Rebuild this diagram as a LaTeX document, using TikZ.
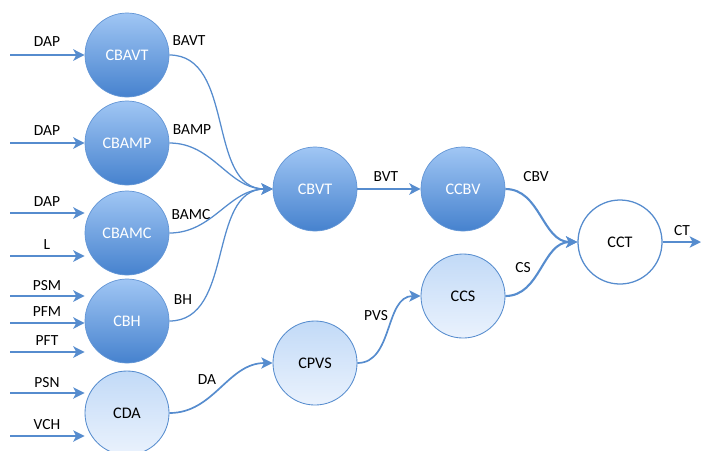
\documentclass[tikz,border=0pt]{standalone}
\usepackage{fontspec}
\setmainfont{Carlito}
\usetikzlibrary{arrows.meta}

\definecolor{lineblue}{RGB}{86,140,206}
\definecolor{darktop}{RGB}{160,198,244}
\definecolor{darkbot}{RGB}{70,130,206}
\definecolor{lighttop}{RGB}{194,218,247}
\definecolor{lightbot}{RGB}{234,242,253}

\tikzset{
  unit/.style={circle, minimum size=2.1cm, inner sep=0pt,
    font=\fontsize{11.5}{13}\selectfont},
  dark/.style={unit, draw=darkbot!85!white, line width=0.5pt,
    top color=darktop, bottom color=darkbot, text=white},
  light/.style={unit, draw=lineblue, line width=0.6pt,
    top color=lighttop, bottom color=lightbot},
  plain/.style={unit, draw=lineblue, line width=0.9pt, fill=white},
  lbl/.style={font=\fontsize{11}{13}\selectfont},
  flow/.style={draw=lineblue, line width=1.5pt,
    -{Stealth[length=8pt,width=8pt,inset=2pt]}},
  thin/.style={flow, line width=0.9pt},
  mid/.style={flow, line width=1.2pt}
}

\begin{document}
\begin{tikzpicture}[x=0.025cm,y=-0.025cm]
  \useasboundingbox (0,0) rectangle (701,450);

  % nodes
  \node[dark] (cbavt) at (127,55) {CBAVT};
  \node[dark] (cbamp) at (127,143) {CBAMP};
  \node[dark] (cbamc) at (127,233) {CBAMC};
  \node[dark] (cbh) at (127,321) {CBH};
  \node[light] (cda) at (127,413) {CDA};
  \node[dark] (cbvt) at (315,189) {CBVT};
  \node[dark] (ccbv) at (463,189) {CCBV};
  \node[light] (cpvs) at (315,363) {CPVS};
  \node[light] (ccs) at (463,296) {CCS};
  \node[plain] (cct) at (620,242) {CCT};

  % free ends of the inputs
  \coordinate (in1) at (10,55);
  \coordinate (in2) at (10,143);
  \coordinate (in3) at (10,213);
  \coordinate (in4) at (10,256);
  \coordinate (in5) at (10,296);
  \coordinate (in6) at (10,323);
  \coordinate (in7) at (10,352);
  \coordinate (in8) at (10,393);
  \coordinate (in9) at (10,436);
  \coordinate (out) at (701,242);

  \draw[flow] (in1) -- (cbavt.west |- in1);
  \draw[flow] (in2) -- (cbamp.west |- in2);
  \draw[flow] (in3) -- (cbamc.west |- in3);
  \draw[flow] (in4) -- (cbamc.west |- in4);
  \draw[flow] (in5) -- (cbh.west |- in5);
  \draw[flow] (in6) -- (cbh.west |- in6);
  \draw[flow] (in7) -- (cbh.west |- in7);
  \draw[flow] (in8) -- (cda.west |- in8);
  \draw[flow] (in9) -- (cda.west |- in9);

  \node[lbl] (l1) at (47,42) {DAP};
  \node[lbl] (l2) at (47,131) {DAP};
  \node[lbl] (l3) at (47,202) {DAP};
  \node[lbl] (l4) at (47,245) {L};
  \node[lbl] (l5) at (47,286) {PSM};
  \node[lbl] (l6) at (47,312) {PFM};
  \node[lbl] (l7) at (47,341) {PFT};
  \node[lbl] (l8) at (47,383) {PSN};
  \node[lbl] (l9) at (47,425) {VCH};

  % into CBVT
  \draw[thin] (cbavt.east) to[out=0,in=180] (cbvt.west);
  \draw[thin] (cbamp.east) to[out=0,in=180] (cbvt.west);
  \draw[thin] (cbamc.east) to[out=0,in=180] (cbvt.west);
  \draw[thin] (cbh.east) to[out=0,in=180] (cbvt.west);
  \node[lbl] (bavt) at (189,41) {BAVT};
  \node[lbl] (bamp) at (192,130) {BAMP};
  \node[lbl] (bamc) at (191,215) {BAMC};
  \node[lbl] (bh) at (183,300) {BH};

  \draw[flow] (cbvt) -- (ccbv);
  \node[lbl] (bvt) at (386,177) {BVT};

  \draw[mid] (cda.east) to[out=0,in=180] (cpvs.west);
  \node[lbl] (da) at (207,380) {DA};
  \draw[mid] (cpvs.east) to[out=0,in=180] (ccs.west);
  \node[lbl] (pvs) at (376,316) {PVS};

  \draw[flow] (ccbv.east) to[out=0,in=180] (cct.west);
  \node[lbl] (cbv) at (536,177) {CBV};
  \draw[flow] (ccs.east) to[out=0,in=180] (cct.west);
  \node[lbl] (cs) at (523,268) {CS};

  \draw[flow] (cct) -- (out);
  \node[lbl] (ct) at (682,231) {CT};
\end{tikzpicture}
\end{document}
